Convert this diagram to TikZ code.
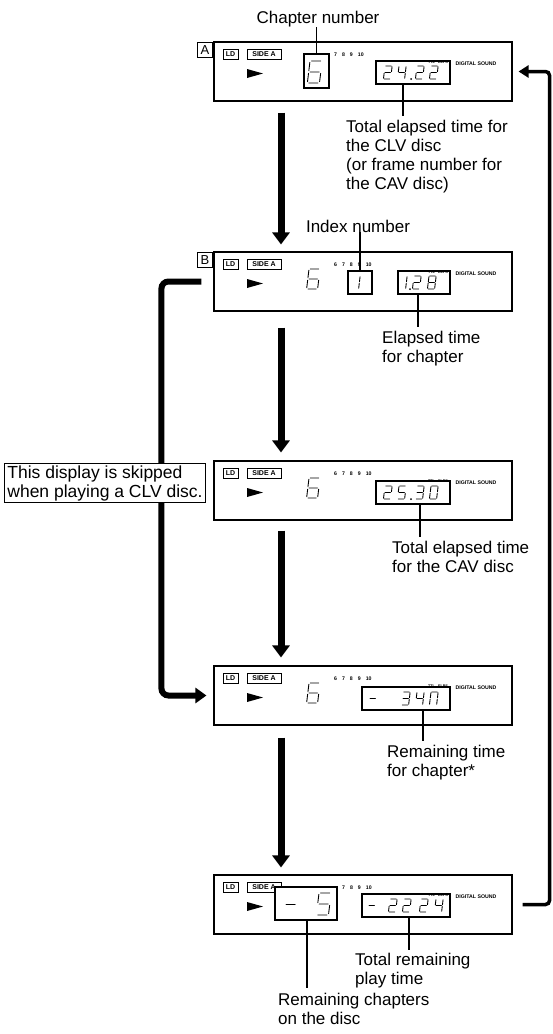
\documentclass[tikz,border=0pt]{standalone}
\usepackage{fontspec}
\setmainfont{Liberation Sans}
\usetikzlibrary{arrows.meta}
\tikzset{
  panel/.style={draw, line width=1.1pt, minimum width=298pt, minimum height=59pt, inner sep=0pt},
  txt/.style={font=\fontsize{17}{19}\selectfont, align=left, anchor=north west, inner sep=0pt},
  tag/.style={draw, line width=0.8pt, font=\fontsize{13}{13}\selectfont, minimum size=15pt, inner sep=0pt},
  smallbox/.style={draw, line width=0.9pt, font=\fontsize{7}{7}\selectfont\bfseries, minimum height=10pt, inner sep=0pt},
  tiny/.style={font=\fontsize{5.2}{5.2}\selectfont\bfseries, inner sep=0pt},
  tinier/.style={font=\fontsize{3.8}{3.8}\selectfont\bfseries, inner sep=0pt},
  dbox/.style={draw, line width=2.2pt, fill=white, inner sep=0pt},
  conn/.style={line width=1.4pt},
  seg/.style={line width=0.9pt, line cap=round},
  downarrow/.style={line width=7pt, -{Triangle[width=17pt,length=12pt]}},
  skiparrow/.style={line width=6pt, rounded corners=7pt, -{Triangle[width=15pt,length=11pt]}},
  backarrow/.style={line width=3.5pt, rounded corners=4pt, -{Triangle[width=12pt,length=10pt]}},
}
\newcommand\dg[1]{%
\ifcase#1
\draw[seg] (1,0)--(7,0) (8,1)--(8,7) (8,9)--(8,15) (1,16)--(7,16) (0,9)--(0,15) (0,1)--(0,7);%0
\or\draw[seg] (8,1)--(8,7) (8,9)--(8,15);%1
\or\draw[seg] (1,0)--(7,0) (8,1)--(8,7) (1,8)--(7,8) (0,9)--(0,15) (1,16)--(7,16);%2
\or\draw[seg] (1,0)--(7,0) (8,1)--(8,7) (1,8)--(7,8) (8,9)--(8,15) (1,16)--(7,16);%3
\or\draw[seg] (0,1)--(0,7) (1,8)--(7,8) (8,1)--(8,7) (8,9)--(8,15);%4
\or\draw[seg] (1,0)--(7,0) (0,1)--(0,7) (1,8)--(7,8) (8,9)--(8,15) (1,16)--(7,16);%5
\or\draw[seg] (1,0)--(7,0) (0,1)--(0,7) (1,8)--(7,8) (0,9)--(0,15) (8,9)--(8,15) (1,16)--(7,16);%6
\or\draw[seg] (1,0)--(7,0) (8,1)--(8,7) (8,9)--(8,15);%7
\or\draw[seg] (1,0)--(7,0) (8,1)--(8,7) (8,9)--(8,15) (1,16)--(7,16) (0,9)--(0,15) (0,1)--(0,7) (1,8)--(7,8);%8
\or\draw[seg] (1,0)--(7,0) (8,1)--(8,7) (8,9)--(8,15) (1,16)--(7,16) (0,1)--(0,7) (1,8)--(7,8);%9
\or\draw[seg] (1,8)--(7,8);%10 minus
\or\draw[seg] (1,0)--(7,0) (8,1)--(8,7) (8,9)--(8,15) (0,9)--(0,15) (0,1)--(0,7);%11
\fi}
\newcommand\sdig[4]{\begin{scope}[shift={(#1,#2)},xslant=0.12,scale=#3/16,xscale=1.1]\dg{#4}\end{scope}}
\newcommand\rowfull{6\hspace{5pt}7\hspace{5pt}8\hspace{5pt}9\hspace{5pt}10}
\newcommand\rowpart{7\hspace{5pt}8\hspace{5pt}9\hspace{5pt}10}
\newcommand\paneldetail[4]{%
  \node[smallbox, minimum width=15pt] (ld#2) at (230.5,{#1+12.5}) {LD};
  \node[smallbox, minimum width=34pt] (sd#2) at (264,{#1+12.5}) {SIDE A};
  \fill (247,{#1+27}) -- (263,{#1+31.5}) -- (247,{#1+36}) -- cycle;
  \node[tiny, anchor=west] (row#2) at (#4,{#1+13}) {#3};
  \node[tiny] (ds#2) at (476,{#1+21.5}) {DIGITAL SOUND};
}
\newcommand\ttl[2]{\node[tinier] (tl#2) at (438,{#1+20.5}) {TTL\hspace{3pt}ELPS};}
\begin{document}
\begin{tikzpicture}[x=1pt,y=-1pt]
\useasboundingbox (0,0) rectangle (552,1034);
\fill[white] (0,0) rectangle (552,1034);

% panels
\node[panel] (pA) at (363,71.5) {};
\node[panel] (pB) at (363,281.5) {};
\node[panel] (pC) at (363,490.5) {};
\node[panel] (pD) at (363,695.5) {};
\node[panel] (pE) at (363,904.5) {};
\node[tag] (tA) at (205,50) {A};
\node[tag] (tB) at (205,260) {B};

\paneldetail{42}{A}{\rowpart}{334}
\paneldetail{252}{B}{\rowfull}{334}
\paneldetail{461}{C}{\rowfull}{334}
\paneldetail{666}{D}{\rowfull}{334}
\paneldetail{875}{E}{\rowpart}{342}

% display boxes
\node[dbox, minimum width=25pt, minimum height=34pt] (chA) at (316.5,71) {};
\node[dbox, minimum width=74pt, minimum height=23pt] (tbA) at (413,72.5) {};
\node[dbox, minimum width=24pt, minimum height=23pt] (ixB) at (360,282.5) {};
\node[dbox, minimum width=52pt, minimum height=23pt] (tbB) at (424,282.5) {};
\node[dbox, minimum width=74pt, minimum height=23pt] (tbC) at (413,492.5) {};
\node[dbox, minimum width=88pt, minimum height=23pt] (tbD) at (406,698.5) {};
\node[dbox, minimum width=62pt, minimum height=33pt] (chE) at (306,903.5) {};
\node[dbox, minimum width=88pt, minimum height=23pt] (tbE) at (406,905.5) {};

\ttl{42}{A}\ttl{252}{B}\ttl{461}{C}\ttl{666}{D}\ttl{875}{E}

% digits A
\sdig{310}{61}{22}{6}
\sdig{385}{66}{13}{2}\sdig{399}{66}{13}{4}\fill (411,79) circle (1);
\sdig{417}{66}{13}{2}\sdig{431}{66}{13}{2}
% digits B
\sdig{309}{269}{20}{6}
\sdig{353}{276}{13}{1}
\sdig{400}{276}{13}{1}\fill (410,289) circle (1);
\sdig{414}{276}{13}{2}\sdig{429}{276}{13}{8}
% digits C
\sdig{309}{478}{20}{6}
\sdig{385}{486}{13}{2}\sdig{399}{486}{13}{5}\fill (411,499) circle (1);
\sdig{417}{486}{13}{3}\sdig{431}{486}{13}{0}
% digits D
\sdig{309}{683}{20}{6}
\sdig{370}{692}{13}{10}
\sdig{403}{692}{13}{3}\sdig{417}{692}{13}{4}\sdig{431}{692}{13}{11}
% digits E
\sdig{286}{893}{22}{10}\sdig{319}{893}{22}{5}
\sdig{369}{899}{13}{10}
\sdig{390}{899}{13}{2}\sdig{404}{899}{13}{2}\sdig{421}{899}{13}{2}\sdig{436}{899}{13}{4}

% texts
\node[font=\fontsize{17}{19}\selectfont, inner sep=0pt, anchor=base] (chapnum) at (318,23) {Chapter number};
\node[font=\fontsize{17}{19}\selectfont, inner sep=0pt, anchor=base] (idxnum) at (358,232) {Index number};
\node[txt] (txA) at (346,119.6) {Total elapsed time for\\the CLV disc\\(or frame number for\\the CAV disc)};
\node[txt] (txB) at (382,330.6) {Elapsed time\\for chapter};
\node[txt] (txC) at (392,540.6) {Total elapsed time\\for the CAV disc};
\node[txt] (txD) at (387,744.6) {Remaining time\\for chapter*};
\node[txt] (txE1) at (355,952.6) {Total remaining\\play time};
\node[txt] (txE2) at (278,992.6) {Remaining chapters\\on the disc};

% connectors
\draw[conn] (chA.north) -- (chA.north |- chapnum.south);
\draw[conn] (ixB.north) -- (ixB.north |- idxnum.south);
\coordinate (kA) at (403,116);
\coordinate (kB) at (418,327);
\coordinate (kC) at (420,537);
\coordinate (kD) at (423,741);
\coordinate (kE1) at (409,950);
\coordinate (kE2) at (307,988);
\draw[conn] (kA |- tbA.south) -- (kA);
\draw[conn] (kB |- tbB.south) -- (kB);
\draw[conn] (kC |- tbC.south) -- (kC);
\draw[conn] (kD |- tbD.south) -- (kD);
\draw[conn] (kE1 |- tbE.south) -- (kE1);
\draw[conn] (kE2 |- chE.south) -- (kE2);

% flow arrows
\draw[downarrow] ([shift={(-82,11)}]pA.south) -- ([shift={(-82,-7)}]pB.north);
\draw[downarrow] ([shift={(-82,16)}]pB.south) -- ([shift={(-82,-8)}]pC.north);
\draw[downarrow] ([shift={(-82,10)}]pC.south) -- ([shift={(-82,-8)}]pD.north);
\draw[downarrow] ([shift={(-82,12)}]pD.south) -- ([shift={(-82,-7)}]pE.north);
\draw[skiparrow] ([xshift=-12pt]pB.west) -- ++(-40,0) |- ([xshift=-7pt]pD.west);
\draw[backarrow] ([xshift=10pt]pE.east) -- ++(27,0) |- ([xshift=6pt]pA.east);

% note box
\node[draw, fill=white, line width=0.8pt, font=\fontsize{17.5}{19}\selectfont, align=left, anchor=north west, inner xsep=3pt, inner ysep=2pt] (note) at (4,463) {This display is skipped\\when playing a CLV disc.};
\end{tikzpicture}
\end{document}
